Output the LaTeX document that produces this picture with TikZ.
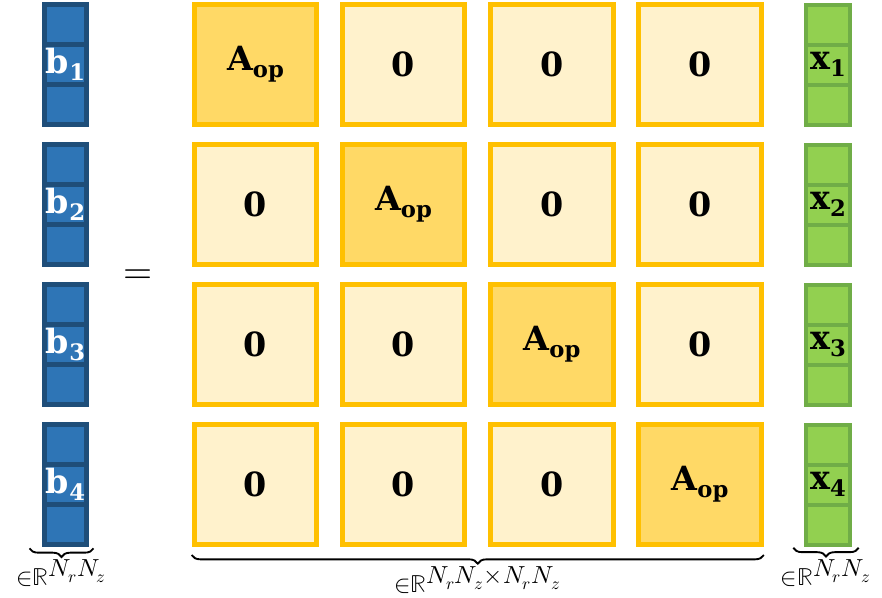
\documentclass[tikz,border=0pt]{standalone}
\usepackage{fontspec}
\usepackage{unicode-math}
\setmathfont{Latin Modern Math}
\usetikzlibrary{decorations.pathreplacing,positioning}
\newfontfamily\lblfont{DejaVu Serif}
\definecolor{opgold}{HTML}{FFC000}
\definecolor{opfill}{HTML}{FFD966}
\definecolor{zerofill}{HTML}{FFF2CC}
\definecolor{bblue}{HTML}{2E75B6}
\definecolor{bborder}{HTML}{1F4E79}
\definecolor{xgreen}{HTML}{92D050}
\definecolor{xborder}{HTML}{70AD47}
\newcommand{\sublbl}[2]{#1\raisebox{-5.5pt}{\fontsize{17}{17}\selectfont #2}}
\newcommand{\bigsup}[1]{^{\mbox{$#1$}}}
\tikzset{
  block/.style={draw=opgold, line width=3.75pt, minimum width=92pt, minimum height=90pt,
    inner sep=0pt, font=\lblfont\bfseries\fontsize{25}{30}\selectfont},
  opblock/.style={block, fill=opfill},
  zeroblock/.style={block, fill=zerofill},
  bcell/.style={draw=bborder, fill=bblue, line width=3.75pt, minimum width=31.5pt,
    minimum height=30pt, inner sep=0pt},
  xcell/.style={draw=xborder, fill=xgreen, line width=3pt, minimum width=33pt,
    minimum height=30pt, inner sep=0pt},
  vlabel/.style={font=\lblfont\bfseries\fontsize{25}{30}\selectfont, inner sep=0pt},
  under/.style={decorate, decoration={brace, mirror, amplitude=6.5pt}, line width=1.4pt},
  dimlabel/.style={font=\fontsize{18.5}{20}\selectfont, inner sep=0pt}
}
\begin{document}
\begin{tikzpicture}[x=0.75pt,y=-0.75pt]
  \useasboundingbox (0,0) rectangle (882,597);
  \foreach \r/\yc in {1/64.5,2/204.5,3/344.5,4/484.5}{
    % block row
    \foreach \c/\xc in {1/255.5,2/403.5,3/552,4/700}{
      \ifnum\r=\c
        \node[opblock] (m-\r-\c) at (\xc,\yc) {\sublbl{A}{op}};
      \else
        \node[zeroblock] (m-\r-\c) at (\xc,\yc) {0};
      \fi
    }
    % left vector b
    \node[bcell] (b-\r-1) at (65.5,\yc-40) {};
    \node[bcell] (b-\r-2) at (65.5,\yc) {};
    \node[bcell] (b-\r-3) at (65.5,\yc+40) {};
    \node[vlabel, text=white] (bl-\r) at (b-\r-2) {\sublbl{b}{\r}};
    % right vector x
    \node[xcell] (x-\r-1) at (828,\yc-40) {};
    \node[xcell] (x-\r-2) at (828,\yc) {};
    \node[xcell] (x-\r-3) at (828,\yc+40) {};
    \node[vlabel] (xl-\r) at (x-\r-2) {\sublbl{x}{\r}};
  }
  \node[font=\fontsize{28}{30}\selectfont] (eq) at (138.5,277) {$=$};
  % braces
  \draw[under] ([xshift=-9.4pt,yshift=-1pt]b-4-3.south west)
    -- ([xshift=3.4pt,yshift=-1pt]b-4-3.south east)
    node[dimlabel, midway, below=8pt] (dim-b) {${\in}\mathbb{R}\bigsup{N_rN_z}$};
  \draw[under] ([yshift=-6pt]m-4-1.south west) -- ([yshift=-6pt]m-4-4.south east)
    node[dimlabel, midway, below=8pt] (dim-m) {${\in}\mathbb{R}\bigsup{N_rN_z{\times}N_rN_z}$};
  \draw[under] ([xshift=-8pt,yshift=-1pt]x-4-3.south west)
    -- ([xshift=5pt,yshift=-1pt]x-4-3.south east)
    node[dimlabel, midway, below=8pt] (dim-x) {${\in}\mathbb{R}\bigsup{N_rN_z}$};
\end{tikzpicture}
\end{document}
